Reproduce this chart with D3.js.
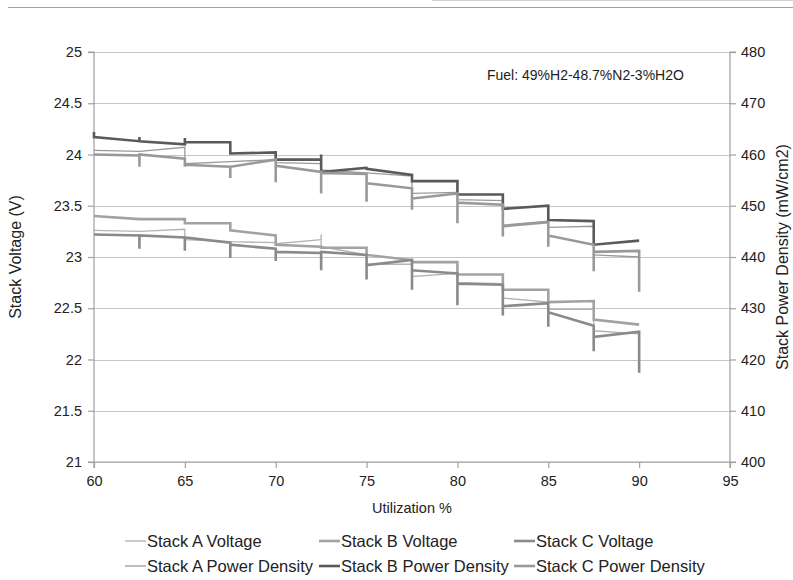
<!DOCTYPE html>
<html><head><meta charset="utf-8">
<script src="https://cdn.jsdelivr.net/npm/d3@7"></script>
<style>body{margin:0;background:#fff}svg{display:block;font-family:"Liberation Sans",Arial,sans-serif}</style>
</head><body><svg id="c" width="793" height="580"></svg>
<script>
// ---- data ----
const utilization = [60,62.5,65,67.5,70,72.5,75,77.5,80,82.5,85,87.5,90];
const voltTicks = [21,21.5,22,22.5,23,23.5,24,24.5,25];
const pdTicks = [400,410,420,430,440,450,460,470,480];
const xTicks = [60,65,70,75,80,85,90,95];

// Voltage series (V): value arriving at each utilization step, spike high/low, value departing
const aVoltArrive = [null,23.25,23.27,23.15,23.14,23.17,23.02,22.93,22.84,22.74,22.56,22.49,22.25];
const aVoltHigh   = [null,null,null,null,null,23.22,null,null,null,null,null,null,null];
const aVoltLow    = [null,null,null,null,null,null,null,null,null,null,null,null,null];
const aVoltDepart = [23.26,23.25,23.17,23.15,23.13,23.10,22.93,22.81,22.75,22.60,22.49,22.28,null];

const bVoltArrive = [null,23.37,23.37,23.33,23.21,23.10,23.09,22.97,22.95,22.83,22.68,22.57,22.34];
const bVoltHigh   = [null,null,null,null,null,null,null,null,null,null,null,null,null];
const bVoltLow    = [null,null,null,null,null,null,null,null,null,null,null,null,null];
const bVoltDepart = [23.40,23.37,23.33,23.26,23.12,23.09,23.02,22.95,22.83,22.68,22.56,22.39,null];

const cVoltArrive = [null,23.21,23.19,23.14,23.08,23.04,23.02,22.97,22.84,22.73,22.55,22.33,22.27];
const cVoltHigh   = [null,null,null,null,null,null,null,null,null,null,null,null,null];
const cVoltLow    = [null,23.08,23.06,22.99,22.96,22.87,22.78,22.68,22.53,22.43,22.32,22.08,21.87];
const cVoltDepart = [23.22,23.21,23.19,23.12,23.05,23.05,22.92,22.87,22.74,22.52,22.46,22.22,null];

// Power density series (mW/cm2)
const aPdArrive = [null,460.6,461.4,458.6,459.0,458.2,456.4,455.8,452.6,451.0,447.0,446.0,440.0];
const aPdHigh   = [null,null,null,null,null,null,null,null,null,null,null,null,null];
const aPdLow    = [null,null,null,null,null,null,null,null,null,null,null,null,null];
const aPdDepart = [460.8,460.6,458.2,458.6,458.4,457.0,456.4,452.4,451.2,446.2,445.8,440.4,null];

const bPdArrive = [null,462.6,462.0,462.4,460.4,459.0,457.4,456.0,454.8,452.2,450.0,447.0,443.2];
const bPdHigh   = [464.4,463.4,463.2,null,null,460.0,457.6,null,null,null,null,null,null];
const bPdLow    = [null,null,null,null,null,null,null,null,null,null,null,null,null];
const bPdDepart = [463.4,462.6,462.4,460.2,459.0,456.6,457.2,454.8,452.2,449.4,447.2,442.4,null];

const cPdArrive = [null,459.8,459.2,457.6,459.0,456.6,456.2,453.4,452.4,450.2,446.8,442.4,441.2];
const cPdHigh   = [null,null,null,null,null,null,null,null,null,null,null,null,null];
const cPdLow    = [null,457.6,457.6,455.4,454.6,452.4,450.8,449.2,446.6,444.0,442.0,437.2,433.2];
const cPdDepart = [460.0,460.0,458.0,457.6,457.8,456.4,454.4,451.4,450.6,446.0,444.2,441.0,null];

const seriesNames = ["Stack A Voltage","Stack B Voltage","Stack C Voltage","Stack A Power Density","Stack B Power Density","Stack C Power Density"];
const fuelNote = "Fuel: 49%H2-48.7%N2-3%H2O";

// ---- build ----
const svg = d3.select("#c");
const L=94,R=730,T=52,B=462;
const x = d3.scaleLinear().domain([60,95]).range([L,R]);
const yV = d3.scaleLinear().domain([21,25]).range([B,T]);
const yP = d3.scaleLinear().domain([400,480]).range([B,T]);

const styles = [
  {color:"#b4b4b4",w:1.4},
  {color:"#a2a2a2",w:2.6},
  {color:"#8a8a8a",w:2.6},
  {color:"#9a9a9a",w:1.3},
  {color:"#5a5a5a",w:2.6},
  {color:"#999999",w:2.6}
];
const series = [
  {arr:aVoltArrive,hi:aVoltHigh,lo:aVoltLow,dep:aVoltDepart,axis:"v"},
  {arr:bVoltArrive,hi:bVoltHigh,lo:bVoltLow,dep:bVoltDepart,axis:"v"},
  {arr:cVoltArrive,hi:cVoltHigh,lo:cVoltLow,dep:cVoltDepart,axis:"v"},
  {arr:aPdArrive,hi:aPdHigh,lo:aPdLow,dep:aPdDepart,axis:"p"},
  {arr:bPdArrive,hi:bPdHigh,lo:bPdLow,dep:bPdDepart,axis:"p"},
  {arr:cPdArrive,hi:cPdHigh,lo:cPdLow,dep:cPdDepart,axis:"p"}
];
function pts(s){
  const out=[];
  utilization.forEach((u,i)=>{
    [s.arr[i],s.hi[i],s.lo[i],s.dep[i]].forEach(v=>{ if(v!=null) out.push([u,v]); });
  });
  return out;
}

// top border lines
svg.append("line").attr("x1",432).attr("x2",793).attr("y1",0.5).attr("y2",0.5).attr("stroke","#d0d0d0");
svg.append("line").attr("x1",8).attr("x2",793).attr("y1",7.5).attr("y2",7.5).attr("stroke","#a0a0a0");

// gridlines
svg.append("g").selectAll("line").data(voltTicks).join("line")
  .attr("x1",L).attr("x2",R).attr("y1",d=>Math.round(yV(d))+0.5).attr("y2",d=>Math.round(yV(d))+0.5)
  .attr("stroke","#c6c6c6").attr("stroke-width",1.2);

const fs = "14.5px";
// left axis
const gl = svg.append("g").attr("transform",`translate(${L},0)`)
  .call(d3.axisLeft(yV).tickValues(voltTicks).tickSize(6).tickPadding(6).tickFormat(d3.format("")));
// right axis
const gr = svg.append("g").attr("transform",`translate(${R},0)`)
  .call(d3.axisRight(yP).tickValues(pdTicks).tickSize(6).tickPadding(5).tickFormat(d3.format("")));
// bottom axis
const gb = svg.append("g").attr("transform",`translate(0,${B})`)
  .call(d3.axisBottom(x).tickValues(xTicks).tickSize(6).tickPadding(8).tickFormat(d3.format("")));
[gl,gr,gb].forEach(g=>{
  g.selectAll("path").attr("stroke","#a0a0a0").attr("stroke-width",1.2);
  g.selectAll("line").attr("stroke","#a0a0a0").attr("stroke-width",1.2);
  g.selectAll("text").attr("fill","#222").style("font-size",fs).style("font-family",'"Liberation Sans",Arial,sans-serif');
});
gl.select("path").attr("d",`M-6,${T}H0V${B}H-6`);
gr.select("path").attr("d",`M6,${T}H0V${B}H6`);
gb.select("path").attr("d",`M${L},6V0H${R}V6`);

// series lines
const line = d3.line();
series.forEach((s,i)=>{
  const ys = s.axis==="v"?yV:yP;
  svg.append("path").attr("d",line(pts(s).map(p=>[x(p[0]),ys(p[1])])))
    .attr("fill","none").attr("stroke",styles[i].color).attr("stroke-width",styles[i].w)
    .attr("stroke-linejoin","miter");
});

// axis titles
svg.append("text").attr("transform",`translate(21,${(T+B)/2}) rotate(-90)`).attr("text-anchor","middle")
  .style("font-size","16px").attr("fill","#222").text("Stack Voltage (V)");
svg.append("text").attr("transform",`translate(788,${(T+B)/2}) rotate(-90)`).attr("text-anchor","middle")
  .style("font-size","16px").attr("fill","#222").text("Stack Power Density (mW/cm2)");
svg.append("text").attr("x",(L+R)/2).attr("y",513).attr("text-anchor","middle")
  .style("font-size",fs).attr("fill","#222").text("Utilization %");
svg.append("text").attr("x",487).attr("y",80).style("font-size","14px").attr("fill","#222").text(fuelNote);

// legend
const legX=[125,319,514], legY=[541,566];
seriesNames.forEach((n,i)=>{
  const cx=legX[i%3], cy=legY[Math.floor(i/3)];
  svg.append("line").attr("x1",cx).attr("x2",cx+21).attr("y1",cy).attr("y2",cy)
    .attr("stroke",styles[i].color).attr("stroke-width",styles[i].w);
  svg.append("text").attr("x",cx+22).attr("y",cy+6).style("font-size","16.5px").attr("fill","#222").text(n);
});
</script></body></html>
